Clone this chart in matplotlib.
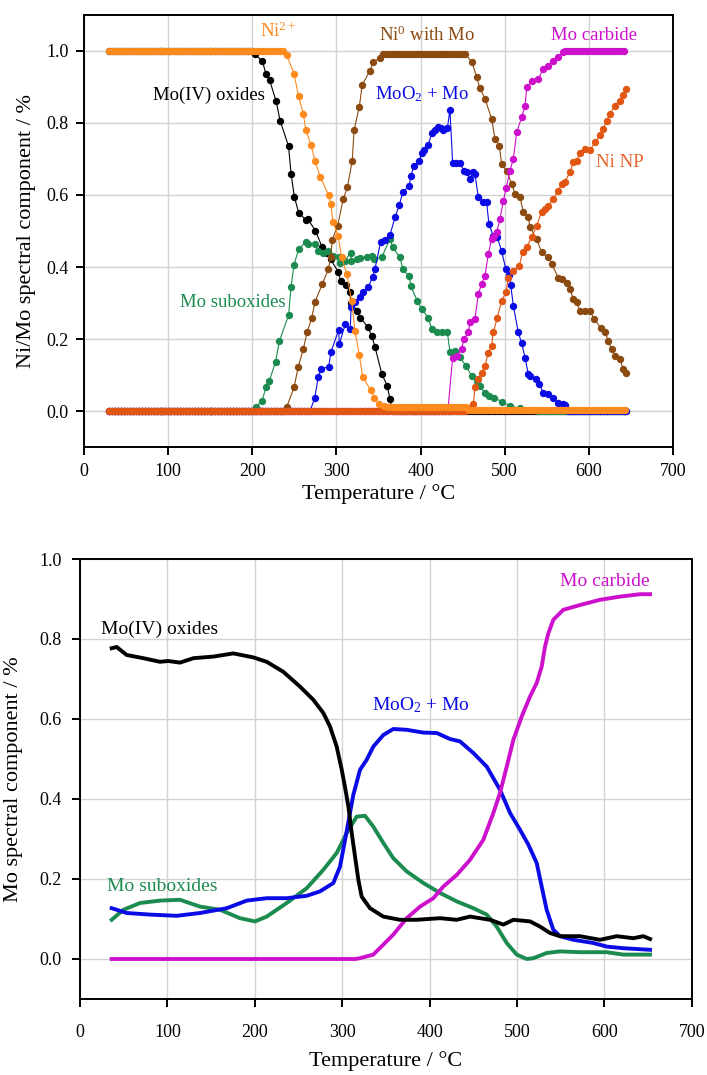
import numpy as np
import matplotlib
matplotlib.use('Agg')
import matplotlib.pyplot as plt

plt.rcParams['font.family'] = ['Liberation Serif', 'DejaVu Serif']
plt.rcParams['mathtext.fontset'] = 'custom'
plt.rcParams['mathtext.rm'] = 'Liberation Serif'
plt.rcParams['mathtext.it'] = 'Liberation Serif:italic'

# ---------------- top panel: Ni/Mo components (scatter + line) ----------------
# flat stretches as (T start, T end, value); the varying part read point by point
SCAN_STEP = 3.5  # °C between spectra

mo4_top_pre = (30, 200, 1.0)
mo4_top_t = [203, 212, 216, 220.5, 228, 233, 243, 246, 250, 255, 264, 266, 275, 283, 289,
             293, 302, 305, 311, 316, 317, 325, 328, 337, 342, 346, 354, 360.5, 363.7, 366]
mo4_top_v = [0.99, 0.971, 0.936, 0.918, 0.862, 0.806, 0.735, 0.658, 0.594, 0.551, 0.530, 0.533,
             0.501, 0.455, 0.44, 0.422, 0.387, 0.362, 0.35, 0.331, 0.30, 0.279, 0.26, 0.235,
             0.209, 0.177, 0.103, 0.07, 0.033, 0.005]
mo4_top_post = (370, 645, 0.0)

ni2_pre = (30, 238, 1.0)
ni2_t = [241, 249.5, 255, 260.6, 263.7, 269.7, 274.5, 280.8, 290.7, 293.1, 295.9, 301.8, 306.2,
         312.2, 318.1, 322, 327.2, 331.2, 340.7, 345, 351, 356]
ni2_v = [0.987, 0.936, 0.874, 0.825, 0.779, 0.739, 0.695, 0.649, 0.6, 0.575, 0.526, 0.487, 0.427,
         0.381, 0.306, 0.223, 0.156, 0.095, 0.059, 0.036, 0.019, 0.014]
ni2_mid = (360, 455, 0.012)
ni2_post = (458, 645, 0.004)

ni0_pre = (30, 238, 0.0)
ni0_rise_t = [241, 249.5, 254.6, 260.5, 265.3, 270.5, 274.5, 283.2, 290.3, 293.1, 295, 301.4,
              308.1, 312.9, 318.8, 320.9, 327.2, 330.7, 339.9, 343.8, 351.8]
ni0_rise_v = [0.013, 0.066, 0.124, 0.172, 0.221, 0.258, 0.304, 0.353, 0.394, 0.427, 0.476, 0.515,
              0.589, 0.621, 0.695, 0.779, 0.845, 0.906, 0.945, 0.969, 0.98]
ni0_mid = (355, 455, 0.99)
ni0_fall_t = [460.9, 466.8, 470.7, 476.7, 484.6, 488.6, 493.7, 496.5, 502.5, 508.4, 512.4, 518.3,
              522.3, 528.2, 530.2, 538.2, 544.1, 552, 556, 563.9, 567.9, 573.9, 577.8, 581.8,
              585.7, 589.7, 595.6, 601.6, 606.4, 614.3, 619.4, 623.4, 627.4, 631.3, 637.3,
              641.2, 644.4]
ni0_fall_v = [0.97, 0.927, 0.896, 0.867, 0.811, 0.756, 0.737, 0.686, 0.666, 0.631, 0.603, 0.594,
              0.552, 0.538, 0.51, 0.478, 0.441, 0.427, 0.408, 0.371, 0.367, 0.357, 0.339, 0.311,
              0.302, 0.277, 0.279, 0.279, 0.256, 0.232, 0.219, 0.195, 0.172, 0.154, 0.144,
              0.117, 0.107]

sub_top_pre = (30, 200, 0.0)
sub_top_t = [204.3, 211.8, 215.8, 220.1, 227.7, 232, 243.1, 245.9, 249.5, 255, 263.7, 265.7,
             274.5, 278.4, 284, 290.3, 296, 303.4, 304, 310.1, 316.9, 317.5, 324, 328, 336,
             341.9, 345, 353.8, 363.7, 367, 375.6, 378.8, 386.7, 388.3, 396.2, 401.4, 409.2,
             413.3, 420, 425, 431.9, 435, 441, 447, 454, 460.8, 466.8, 471, 476.7, 482, 487,
             496.5, 506.4, 518, 530]
sub_top_v = [0.013, 0.029, 0.066, 0.084, 0.138, 0.194, 0.267, 0.344, 0.406, 0.45, 0.47, 0.465,
             0.464, 0.444, 0.44, 0.444, 0.43, 0.427, 0.41, 0.418, 0.44, 0.418, 0.422, 0.424,
             0.427, 0.43, 0.422, 0.427, 0.478, 0.455, 0.427, 0.394, 0.374, 0.348, 0.306, 0.283,
             0.26, 0.228, 0.219, 0.22, 0.219, 0.165, 0.168, 0.15, 0.126, 0.098, 0.084, 0.07,
             0.05, 0.042, 0.038, 0.027, 0.015, 0.008, 0.004]
sub_top_post = (540, 645, 0.0)

moo2_top_pre = (30, 265, 0.0)
moo2_top_t = [268.4, 274.1, 278.4, 281.9, 290.7, 293.5, 302.6, 303.4, 310.5, 316.5, 317.3, 321.7,
              327.9, 331, 337.9, 343, 345.8, 352.6, 358, 363.7, 369.6, 374.8, 378.8, 386.7,
              388.3, 392.2, 398.5, 401.4, 404.1, 409.2, 413.3, 417, 421.1, 424, 427.1, 432, 435,
              438.2, 442, 446.9, 451.7, 455, 458.8, 462, 464.8, 468.7, 474.7, 478.6, 481.4,
              486.6, 491.4, 496.5, 501.3, 505.6, 507.3, 510.4, 516.3, 520.4, 524.3, 528.2,
              530.2, 537.3, 541.3, 546, 552, 557.9, 563.9, 569.8, 571.8]
moo2_top_v = [0.0, 0.036, 0.096, 0.117, 0.124, 0.164, 0.226, 0.186, 0.242, 0.228, 0.288, 0.302,
              0.316, 0.33, 0.345, 0.373, 0.395, 0.47, 0.475, 0.489, 0.538, 0.572, 0.607, 0.626,
              0.652, 0.68, 0.695, 0.717, 0.726, 0.739, 0.772, 0.78, 0.788, 0.785, 0.781, 0.785,
              0.837, 0.688, 0.689, 0.689, 0.667, 0.664, 0.644, 0.663, 0.658, 0.594, 0.581, 0.58,
              0.519, 0.487, 0.483, 0.444, 0.396, 0.378, 0.35, 0.293, 0.219, 0.188, 0.149, 0.103,
              0.099, 0.089, 0.075, 0.052, 0.047, 0.036, 0.024, 0.019, 0.017]
moo2_top_post = (575, 645, 0.0)

carb_top_pre = (30, 435, 0.0)
carb_top_t = [438.2, 443.8, 448.9, 451.7, 456.8, 458.8, 464.8, 468.7, 472.7, 476.7, 480.6, 484.6,
              487, 490.6, 494.5, 498.5, 502, 506.4, 510.4, 514.4, 520.4, 524.3, 526.4, 532.2,
              540.1, 546, 552, 557.9, 563.9, 569.8]
carb_top_v = [0.149, 0.154, 0.172, 0.2, 0.219, 0.248, 0.257, 0.325, 0.353, 0.376, 0.436, 0.478,
              0.487, 0.496, 0.533, 0.584, 0.62, 0.667, 0.7, 0.774, 0.816, 0.848, 0.899, 0.915,
              0.922, 0.95, 0.959, 0.973, 0.982, 0.996]
carb_top_post = (572, 645, 1.0)

ninp_pre = (30, 455, 0.0)
ninp_t = [458.8, 462.8, 464.8, 468.7, 472.7, 476.7, 480.6, 484.6, 486.6, 491.4, 496.5, 501.7,
          504.4, 510.4, 517.5, 521.5, 526.3, 532.2, 538.2, 544.1, 548, 552, 557.9, 563.9, 567.9,
          571.8, 577.8, 581.8, 585.7, 589.7, 595.6, 601.6, 607.5, 613.5, 617.4, 621.4, 625.4,
          631.3, 637.3, 641.2, 644.4]
ninp_v = [0.01, 0.019, 0.066, 0.089, 0.107, 0.126, 0.163, 0.181, 0.219, 0.26, 0.306, 0.33, 0.369,
          0.39, 0.404, 0.441, 0.455, 0.483, 0.515, 0.554, 0.562, 0.57, 0.589, 0.612, 0.631,
          0.637, 0.663, 0.691, 0.695, 0.717, 0.728, 0.724, 0.746, 0.765, 0.783, 0.806, 0.825,
          0.848, 0.862, 0.876, 0.893]

# ---------------- bottom panel: Mo components (dense lines) ----------------
mo4_bot_t = [36.2, 41.9, 53.4, 72.5, 91.5, 100.9, 114.4, 129.7, 152.5, 175.4, 198.3, 213.6, 232.6,
             251.7, 267, 278.4, 286.1, 293.7, 299.5, 303.2, 307.1, 310.9, 314.7, 318.5, 322.3,
             331.8, 347.1, 366.2, 385.3, 412, 431, 446.3, 469.2, 484.4, 495.9, 515, 526.4,
             537.8, 549.3, 572.2, 595, 614.2, 633.2, 644.6, 652.3]
mo4_bot_v = [0.777, 0.78, 0.76, 0.752, 0.743, 0.745, 0.741, 0.752, 0.756, 0.764, 0.754, 0.743,
             0.718, 0.681, 0.648, 0.615, 0.581, 0.531, 0.473, 0.43, 0.381, 0.315, 0.256, 0.198,
             0.156, 0.127, 0.106, 0.098, 0.098, 0.102, 0.098, 0.106, 0.098, 0.086, 0.098,
             0.094, 0.081, 0.065, 0.057, 0.057, 0.048, 0.057, 0.052, 0.057, 0.05]

moo2_bot_t = [36.2, 53.4, 80.1, 110.6, 137.3, 167.9, 190.8, 213.6, 236.5, 259.4, 274.6, 289.9,
              297.5, 305.2, 312.7, 320.4, 328, 335.6, 347.1, 358.5, 373.8, 392.9, 408.2, 423.4,
              434.8, 450.1, 465.4, 480.6, 492.1, 503.5, 513, 522.6, 528.3, 534, 541.6, 549.3,
              564.5, 587.4, 602.7, 621.7, 637, 652.3]
moo2_bot_v = [0.127, 0.115, 0.111, 0.108, 0.115, 0.127, 0.146, 0.152, 0.152, 0.158, 0.169, 0.19,
              0.231, 0.32, 0.41, 0.473, 0.498, 0.531, 0.56, 0.575, 0.573, 0.566, 0.565, 0.55,
              0.544, 0.515, 0.481, 0.423, 0.365, 0.323, 0.286, 0.24, 0.181, 0.123, 0.073, 0.057,
              0.048, 0.04, 0.031, 0.027, 0.025, 0.023]

sub_bot_t = [36.2, 49.6, 68.7, 91.5, 114.4, 137.3, 160.2, 183.1, 200.3, 213.6, 236.5, 259.4,
             278.4, 293.7, 305.2, 316.6, 326.1, 335.6, 347.1, 358.5, 373.8, 392.9, 412, 431.1,
             450.1, 465.4, 476.8, 488.3, 499.7, 511.2, 518.8, 534, 549.3, 572.2, 602.7, 621.7,
             652.3]
sub_bot_v = [0.098, 0.123, 0.14, 0.146, 0.148, 0.131, 0.123, 0.102, 0.094, 0.106, 0.14, 0.177,
             0.223, 0.265, 0.315, 0.356, 0.358, 0.331, 0.29, 0.252, 0.219, 0.19, 0.165, 0.144,
             0.127, 0.111, 0.081, 0.04, 0.011, 0.0, 0.002, 0.015, 0.019, 0.017, 0.017, 0.011,
             0.011]

carb_bot_t = [36.2, 150, 250, 315, 320.4, 335.6, 347.1, 358.5, 373.8, 389.1, 404.3, 415.7, 431,
              446.3, 461.5, 473, 480.6, 488.3, 495.9, 505.4, 514.9, 522.6, 528.3, 532.1, 535.9,
              541.6, 553, 572.2, 595, 617.9, 640.8, 652.3]
carb_bot_v = [0.0, 0.0, 0.0, 0.0, 0.002, 0.011, 0.036, 0.061, 0.102, 0.131, 0.152, 0.181, 0.21,
              0.248, 0.298, 0.365, 0.415, 0.481, 0.548, 0.606, 0.656, 0.69, 0.731, 0.781, 0.814,
              0.848, 0.873, 0.885, 0.898, 0.906, 0.912, 0.912]

C_MO4 = '#000000'
C_NI2 = '#FF8A1E'
C_NI0 = '#8B4A10'
C_SUB = '#1B8B4F'
C_MOO2 = '#0B0BE5'
C_CARB = '#CC10CC'
C_NINP = '#E25614'


def flat(seg):
    t0, t1, value = seg
    t = np.arange(t0, t1 + 0.01, SCAN_STEP)
    return list(t), [value] * len(t)


def join(*parts):
    t_all, v_all = [], []
    for t, v in parts:
        t_all += list(t)
        v_all += list(v)
    return t_all, v_all


def style_axes(ax, ylim, ylabel, xpad, ypad, xlabelpad, ylabelpad):
    yticks = [0.0, 0.2, 0.4, 0.6, 0.8, 1.0]
    ax.set_xlim(0, 700)
    ax.set_ylim(*ylim)
    ax.set_xticks(range(0, 701, 100))
    ax.set_yticks(yticks)
    ax.set_yticklabels([f'{v:.1f}' for v in yticks])
    ax.grid(True, color='#d2d2d2', linewidth=1.0)
    ax.set_axisbelow(True)
    ax.tick_params(direction='out', length=6, width=1.4, labelsize=13,
                   top=False, right=False)
    ax.tick_params(axis='x', pad=xpad)
    ax.tick_params(axis='y', pad=ypad)
    for sp in ax.spines.values():
        sp.set_linewidth(1.4)
    ax.set_xlabel('Temperature / °C', fontsize=16, labelpad=xlabelpad)
    ax.set_ylabel(ylabel, fontsize=16, labelpad=ylabelpad)


fig = plt.figure(figsize=(7.07, 10.75), dpi=100)

# top
ax1 = fig.add_axes([0.1192, 0.5839, 0.8323, 0.4024])
top_series = [
    (join(flat(mo4_top_pre), (mo4_top_t, mo4_top_v), flat(mo4_top_post)), C_MO4),
    (join(flat(sub_top_pre), (sub_top_t, sub_top_v), flat(sub_top_post)), C_SUB),
    (join(flat(moo2_top_pre), (moo2_top_t, moo2_top_v), flat(moo2_top_post)), C_MOO2),
    (join(flat(ni0_pre), (ni0_rise_t, ni0_rise_v), flat(ni0_mid), (ni0_fall_t, ni0_fall_v)), C_NI0),
    (join(flat(carb_top_pre), (carb_top_t, carb_top_v), flat(carb_top_post)), C_CARB),
    (join(flat(ninp_pre), (ninp_t, ninp_v)), C_NINP),
    (join(flat(ni2_pre), (ni2_t, ni2_v), flat(ni2_mid), flat(ni2_post)), C_NI2),
]
for (t, v), c in top_series:
    ax1.plot(t, v, '-', color=c, linewidth=0.8, marker='o', markersize=5.3,
             markeredgewidth=0)
style_axes(ax1, (-0.1, 1.1), 'Ni/Mo spectral component / %',
           xpad=5, ypad=5, xlabelpad=3, ylabelpad=8)

fs_top = 13.5
ax1.text(209, 1.053, r'Ni$^{2+}$', color=C_NI2, fontsize=fs_top, va='center')
ax1.text(82, 0.875, 'Mo(IV) oxides', color=C_MO4, fontsize=fs_top, va='center')
ax1.text(114, 0.303, 'Mo suboxides', color=C_SUB, fontsize=fs_top, va='center')
ax1.text(351, 1.044, r'Ni$^0$ with Mo', color=C_NI0, fontsize=fs_top, va='center')
ax1.text(346, 0.88, r'MoO$_2$ + Mo', color=C_MOO2, fontsize=fs_top, va='center')
ax1.text(555, 1.042, 'Mo carbide', color=C_CARB, fontsize=fs_top, va='center')
ax1.text(609, 0.69, 'Ni NP', color='#E8672E', fontsize=fs_top, va='center')

# bottom
ax2 = fig.add_axes([0.1132, 0.0707, 0.8652, 0.4093])
ax2.plot(sub_bot_t, sub_bot_v, color=C_SUB, linewidth=2.8)
ax2.plot(moo2_bot_t, moo2_bot_v, color=C_MOO2, linewidth=2.8)
ax2.plot(carb_bot_t, carb_bot_v, color=C_CARB, linewidth=2.8)
ax2.plot(mo4_bot_t, mo4_bot_v, color=C_MO4, linewidth=2.8)
style_axes(ax2, (-0.1, 1.0), 'Mo spectral component / %',
           xpad=12, ypad=7, xlabelpad=7, ylabelpad=12)

fs_bot = 14
ax2.text(24, 0.825, 'Mo(IV) oxides', color=C_MO4, fontsize=fs_bot, va='center')
ax2.text(31, 0.181, 'Mo suboxides', color=C_SUB, fontsize=fs_bot, va='center')
ax2.text(334, 0.635, r'MoO$_2$ + Mo', color=C_MOO2, fontsize=fs_bot, va='center')
ax2.text(549, 0.943, 'Mo carbide', color=C_CARB, fontsize=fs_bot, va='center')

fig.savefig('out.png', dpi=100)
